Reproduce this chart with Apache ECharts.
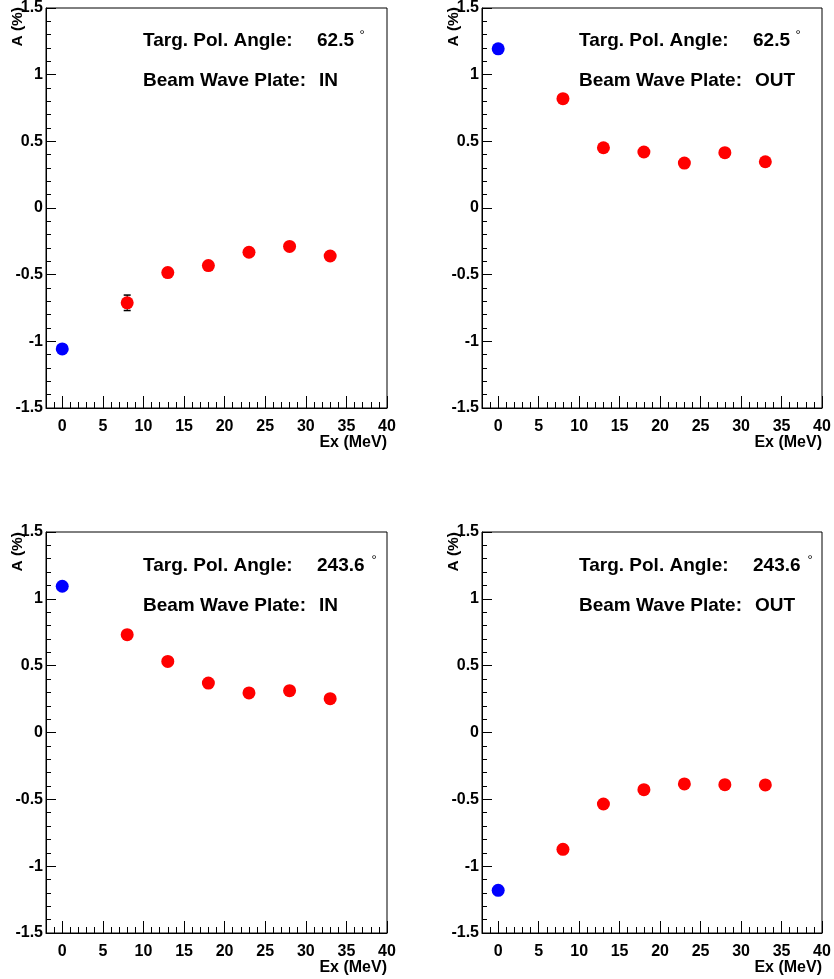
<!DOCTYPE html>
<html>
<head>
<meta charset="utf-8">
<script src="https://cdn.jsdelivr.net/npm/echarts@6/dist/echarts.min.js"></script>
<style>
html,body{margin:0;padding:0;background:#fff;}
#chart{width:834px;height:979px;}
</style>
</head>
<body>
<div id="chart"></div>
<script>
// ---------- data ----------
const refEnergy = [0];                       // blue reference point (Ex = 0)
const excEnergy = [8, 13, 18, 23, 28, 33];   // red points (Ex in MeV)

const refTL = [-1.057];
const asymTL = [-0.711, -0.484, -0.432, -0.332, -0.288, -0.360];
const errTL  = [0.058, 0.03, 0.03, 0.03, 0.03, 0.03];

const refTR = [1.194];
const asymTR = [0.820, 0.452, 0.420, 0.337, 0.415, 0.347];
const errTR  = [0.03, 0.03, 0.03, 0.03, 0.03, 0.03];

const refBL = [1.094];
const asymBL = [0.732, 0.532, 0.370, 0.296, 0.313, 0.253];
const errBL  = [0.03, 0.03, 0.03, 0.03, 0.03, 0.03];

const refBR = [-1.181];
const asymBR = [-0.874, -0.535, -0.428, -0.385, -0.390, -0.392];
const errBR  = [0.03, 0.03, 0.03, 0.03, 0.03, 0.03];

const xMajorTicks = [0, 5, 10, 15, 20, 25, 30, 35, 40];
const angleLabels = ['62.5', '62.5', '243.6', '243.6'];
const plateLabels = ['IN', 'OUT', 'IN', 'OUT'];
const xTitle = 'Ex (MeV)';
const yTitle = 'A (%)';

// ---------- layout ----------
const panels = [
  {left: 46,  top: 7,   width: 341, height: 401, ref: refTL, val: asymTL, err: errTL, degDx: 45},
  {left: 482, top: 7,   width: 340, height: 401, ref: refTR, val: asymTR, err: errTR, degDx: 45},
  {left: 46,  top: 532, width: 341, height: 401, ref: refBL, val: asymBL, err: errBL, degDx: 57},
  {left: 482, top: 532, width: 340, height: 401, ref: refBR, val: asymBR, err: errBR, degDx: 57}
];

const FONT = '"Liberation Sans", Arial, Helvetica, sans-serif';

const grids = [], xAxes = [], yAxes = [], series = [], graphics = [];

panels.forEach((p, i) => {
  grids.push({left: p.left, top: p.top, width: p.width, height: p.height,
    show: true, borderColor: '#000', borderWidth: 1, backgroundColor: 'transparent'});

  // minor ticks + labels
  xAxes.push({
    type: 'value', gridIndex: i, min: -2, max: 40, interval: 1, position: 'bottom',
    axisLine: {show: true, onZero: false, lineStyle: {color: '#000', width: 1}},
    axisTick: {show: true, inside: true, length: 6, lineStyle: {color: '#000', width: 1}},
    axisLabel: {show: true, margin: 11, color: '#000', fontFamily: FONT, fontWeight: 'bold', fontSize: 16,
      formatter: v => (xMajorTicks.indexOf(v) >= 0 ? String(v) : '')},
    splitLine: {show: false}
  });
  // major ticks
  xAxes.push({
    type: 'value', gridIndex: i, min: -2, max: 40, position: 'bottom',
    axisLine: {show: false, onZero: false},
    axisTick: {show: true, inside: true, length: 12, customValues: xMajorTicks, lineStyle: {color: '#000', width: 1}},
    axisLabel: {show: false},
    splitLine: {show: false}
  });
  yAxes.push({
    type: 'value', gridIndex: i, min: -1.5, max: 1.5, interval: 0.5, position: 'left',
    axisLine: {show: true, onZero: false, lineStyle: {color: '#000', width: 1}},
    axisTick: {show: true, inside: true, length: 10, lineStyle: {color: '#000', width: 1}},
    minorTick: {show: true, splitNumber: 5, length: 5, lineStyle: {color: '#000', width: 1}},
    axisLabel: {show: true, margin: 3, color: '#000', fontFamily: FONT, fontWeight: 'bold', fontSize: 16},
    splitLine: {show: false}, minorSplitLine: {show: false}
  });

  series.push({
    type: 'custom', xAxisIndex: 2 * i, yAxisIndex: i, z: 1, silent: true,
    data: excEnergy.map((x, k) => [x, p.val[k], p.err[k]]),
    encode: {x: 0, y: 1},
    renderItem: (params, api) => {
      const x = api.value(0), y = api.value(1), e = api.value(2);
      const t = api.coord([x, y + e]), b = api.coord([x, y - e]);
      const c = 3.5;
      const st = {stroke: '#000', lineWidth: 1.5};
      return {type: 'group', children: [
        {type: 'line', shape: {x1: t[0], y1: t[1], x2: b[0], y2: b[1]}, style: {stroke: '#000', lineWidth: 1}},
        {type: 'line', shape: {x1: t[0] - c, y1: t[1], x2: t[0] + c, y2: t[1]}, style: st},
        {type: 'line', shape: {x1: b[0] - c, y1: b[1], x2: b[0] + c, y2: b[1]}, style: st}
      ]};
    }
  });
  series.push({
    type: 'scatter', xAxisIndex: 2 * i, yAxisIndex: i, z: 3, symbol: 'circle', symbolSize: 13,
    itemStyle: {color: '#ff0000', opacity: 1},
    data: excEnergy.map((x, k) => [x, p.val[k]])
  });
  series.push({
    type: 'scatter', xAxisIndex: 2 * i, yAxisIndex: i, z: 3, symbol: 'circle', symbolSize: 13,
    itemStyle: {color: '#0000ff', opacity: 1},
    data: refEnergy.map((x, k) => [x, p.ref[k]])
  });

  const tf = {fontFamily: FONT, fontWeight: 'bold', fontSize: 19, fill: '#000', textVerticalAlign: 'middle'};
  graphics.push({type: 'text', z: 10, style: Object.assign({}, tf, {x: p.left + 97, y: p.top + 34, text: 'Targ. Pol. Angle:', textAlign: 'left'})});
  graphics.push({type: 'text', z: 10, style: Object.assign({}, tf, {x: p.left + 271, y: p.top + 34, text: angleLabels[i], textAlign: 'left'})});
  graphics.push({type: 'text', z: 10, style: {x: p.left + 271 + p.degDx, y: p.top + 28, text: '°', textAlign: 'center', textVerticalAlign: 'middle', fontFamily: FONT, fontSize: 13, fill: '#000'}});
  graphics.push({type: 'text', z: 10, style: Object.assign({}, tf, {x: p.left + 97, y: p.top + 74, text: 'Beam Wave Plate:', textAlign: 'left'})});
  graphics.push({type: 'text', z: 10, style: Object.assign({}, tf, {x: p.left + 273, y: p.top + 74, text: plateLabels[i], textAlign: 'left'})});
  // axis titles
  graphics.push({type: 'text', z: 10, x: p.left - 28, y: p.top, rotation: Math.PI / 2,
    style: {x: 0, y: 0, text: yTitle, textAlign: 'right', textVerticalAlign: 'middle', fontFamily: FONT, fontWeight: 'bold', fontSize: 15.5, fill: '#000'}});
  graphics.push({type: 'text', z: 10, style: {x: p.left + p.width, y: p.top + p.height + 35, text: xTitle, textAlign: 'right', textVerticalAlign: 'middle', fontFamily: FONT, fontWeight: 'bold', fontSize: 16, fill: '#000'}});
});

const chart = echarts.init(document.getElementById('chart'), null, {renderer: 'canvas'});
chart.setOption({
  animation: false,
  backgroundColor: '#ffffff',
  grid: grids,
  xAxis: xAxes,
  yAxis: yAxes,
  series: series,
  graphic: graphics
});
</script>
</body>
</html>
